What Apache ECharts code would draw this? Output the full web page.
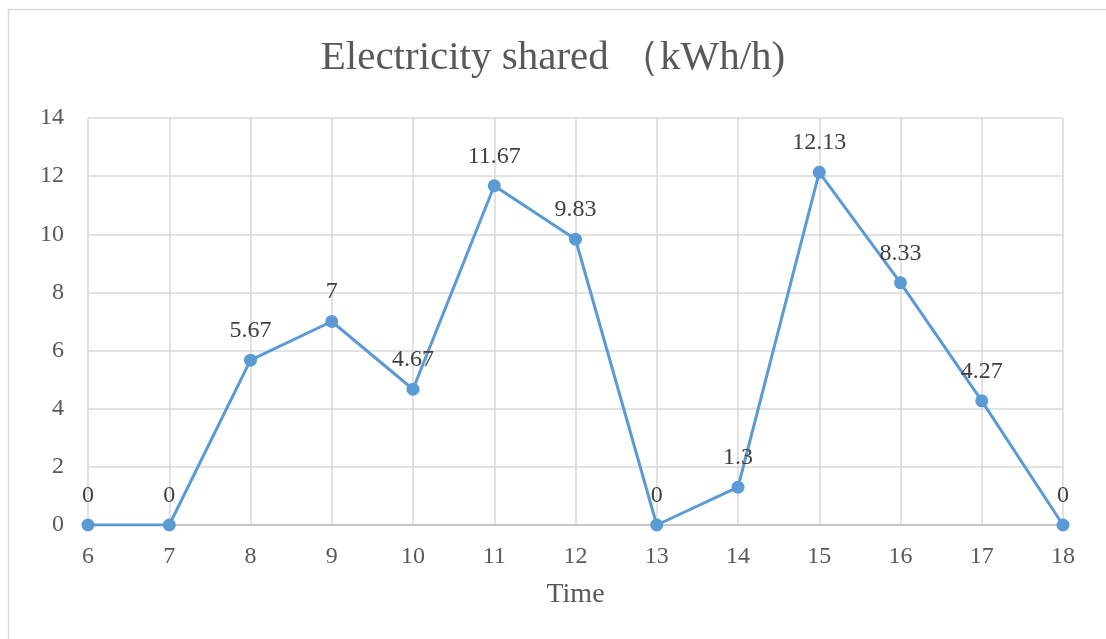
<!DOCTYPE html>
<html><head><meta charset="utf-8">
<script src="https://cdn.jsdelivr.net/npm/echarts@6/dist/echarts.min.js"></script>
<style>html,body{margin:0;padding:0;background:#fff}#c{width:1106px;height:639px}</style>
</head><body><div id="c"></div>
<script>
const categories = ['6','7','8','9','10','11','12','13','14','15','16','17','18'];
const values = [0, 0, 5.67, 7, 4.67, 11.67, 9.83, 0, 1.3, 12.13, 8.33, 4.27, 0];
const titleText = 'Electricity shared （kWh/h)';
const xName = 'Time';

const font = '"Liberation Serif", "DejaVu Serif", serif';
const chart = echarts.init(document.getElementById('c'));
chart.setOption({
  animation: false,
  textStyle: { fontFamily: font },
  graphic: [{
    type: 'rect', silent: true,
    shape: { x: 8.5, y: 9.5, width: 1120, height: 650 },
    style: { fill: 'none', stroke: '#d9d9d9', lineWidth: 1.5 }
  }],
  title: {
    text: titleText, left: 'center', top: 33,
    textStyle: { fontFamily: font, fontSize: 41, fontWeight: 'normal', color: '#595959' }
  },
  grid: { left: 88, right: 43, top: 118, bottom: 114 },
  xAxis: {
    type: 'category', data: categories, boundaryGap: false,
    name: xName, nameLocation: 'middle', nameGap: 56,
    nameTextStyle: { fontFamily: font, fontSize: 28, color: '#595959' },
    axisLine: { lineStyle: { color: '#bfbfbf', width: 1.5 } },
    axisTick: { show: false },
    axisLabel: { fontFamily: font, fontSize: 24, color: '#595959', margin: 20 },
    splitLine: { show: true, lineStyle: { color: '#d9d9d9', width: 1.5 } }
  },
  yAxis: {
    type: 'value', min: 0, max: 14, interval: 2,
    axisLine: { show: false }, axisTick: { show: false },
    axisLabel: { fontFamily: font, fontSize: 24, color: '#595959', margin: 24 },
    splitLine: { lineStyle: { color: '#d9d9d9', width: 1.5 } }
  },
  series: [{
    type: 'line', data: values,
    symbol: 'circle', symbolSize: 13,
    lineStyle: { color: '#5b9bd5', width: 3 },
    itemStyle: { color: '#5b9bd5' },
    label: { show: true, position: 'top', distance: 11, fontFamily: font, fontSize: 24, color: '#404040' }
  }]
});
</script></body></html>
